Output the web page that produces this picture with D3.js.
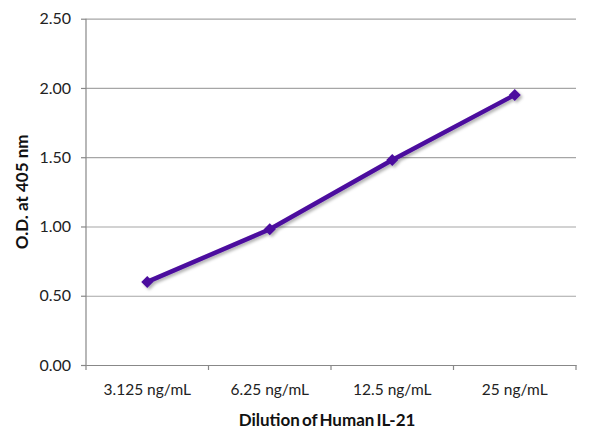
<!DOCTYPE html>
<html><head><meta charset="utf-8">
<script src="https://cdn.jsdelivr.net/npm/d3@7"></script>
<style>
body{margin:0;background:#fff;}
text{font-family:"Lato","Open Sans",sans-serif;}
</style></head>
<body><svg id="c" width="600" height="446"></svg>
<script>
const categories = ["3.125 ng/mL","6.25 ng/mL","12.5 ng/mL","25 ng/mL"];
const values = [0.60, 0.98, 1.48, 1.95];
const yTicks = [0, 0.5, 1.0, 1.5, 2.0, 2.5];

const svg = d3.select("#c");
const m = {l:86, r:24, t:18.7, b:81};
const W = 600, H = 446;
const x = d3.scaleBand().domain(categories).range([m.l, W-m.r]);
const y = d3.scaleLinear().domain([0,2.5]).range([H-m.b, m.t]);

const defs = svg.append("defs");
const f = defs.append("filter").attr("id","sh").attr("x","-20%").attr("y","-20%").attr("width","140%").attr("height","140%");
f.append("feDropShadow").attr("dx",2).attr("dy",2).attr("stdDeviation",1.5).attr("flood-color","#000").attr("flood-opacity",0.3);

// gridlines
const gy = svg.append("g").attr("transform",`translate(${m.l},0)`)
  .call(d3.axisLeft(y).tickValues(yTicks).tickSize(-(W-m.r-m.l)).tickFormat(d3.format(".2f")).tickPadding(15));
gy.select(".domain").remove();
gy.selectAll(".tick line").attr("stroke","#a6a6a6").attr("stroke-width",1.2);
gy.selectAll(".tick text").attr("font-size",16).attr("fill","#222");
gy.selectAll(".tick").append("line").attr("x1",-5).attr("x2",0).attr("stroke","#888").attr("stroke-width",1.2);

// vertical axis line
svg.append("line").attr("x1",m.l).attr("x2",m.l).attr("y1",y(2.5)).attr("y2",y(0)).attr("stroke","#888").attr("stroke-width",1.2);

// x axis
const gx = svg.append("g").attr("transform",`translate(0,${y(0)})`)
  .call(d3.axisBottom(x).tickSize(0).tickPadding(19));
gx.select(".domain").attr("stroke","#888").attr("stroke-width",1.2);
gx.selectAll(".tick text").attr("font-size",15.5).attr("fill","#222");
const bounds = categories.map(c=>x(c)).concat([x(categories[categories.length-1])+x.bandwidth()]);
gx.selectAll("line.bt").data(bounds).join("line").attr("class","bt")
  .attr("x1",d=>d).attr("x2",d=>d).attr("y1",0).attr("y2",5).attr("stroke","#888").attr("stroke-width",1.2);

// line
const cx = c => x(c) + x.bandwidth()/2;
const line = d3.line().x((d,i)=>cx(categories[i])).y(d=>y(d));
const g = svg.append("g").attr("filter","url(#sh)");
g.append("path").datum(values).attr("d",line).attr("fill","none").attr("stroke","#4b0a9e").attr("stroke-width",4.5).attr("stroke-linejoin","round");
g.selectAll("path.pt").data(values).join("path").attr("class","pt")
  .attr("d",d3.symbol().type(d3.symbolSquare).size(72))
  .attr("transform",(d,i)=>`translate(${cx(categories[i])},${y(d)}) rotate(45)`)
  .attr("fill","#4b0a9e");

// titles
svg.append("text").attr("x",(m.l+W-m.r)/2 - 4).attr("y",426).attr("text-anchor","middle")
  .attr("font-size",17).attr("font-weight","bold").attr("fill","#111").attr("word-spacing",-2).text("Dilution of Human IL-21");
svg.append("text").attr("transform",`translate(28,${(y(0)+y(2.5))/2}) rotate(-90)`).attr("text-anchor","middle")
  .attr("font-size",17).attr("font-weight","bold").attr("fill","#111").text("O.D. at 405 nm");
</script></body></html>
